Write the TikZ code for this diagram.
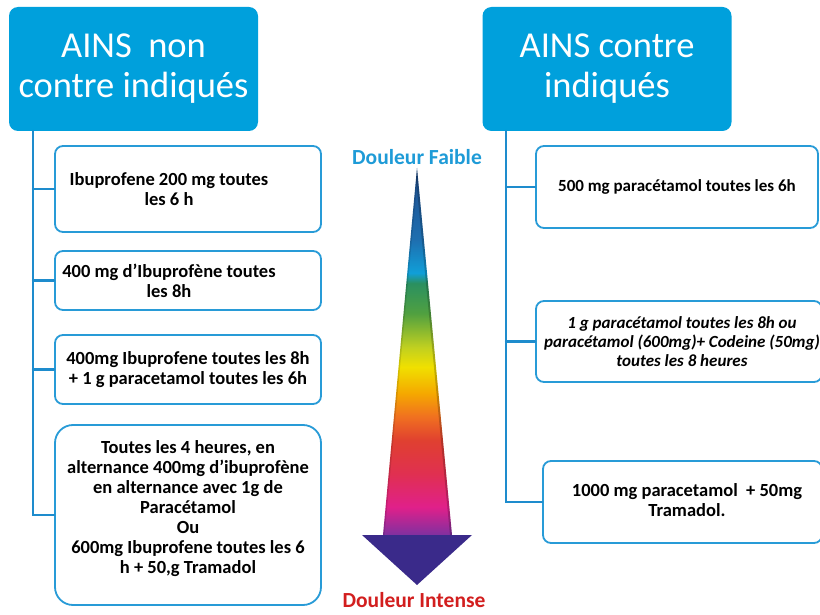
\documentclass[tikz,border=0pt]{standalone}
\usepackage{fontspec}
\setmainfont{Carlito}
\usetikzlibrary{positioning}

\definecolor{ainsblue}{RGB}{0,160,220}
\definecolor{boxline}{RGB}{40,155,215}
\definecolor{treeline}{RGB}{30,140,205}
\definecolor{faible}{RGB}{30,155,215}
\definecolor{intense}{RGB}{210,30,30}
\definecolor{headviolet}{RGB}{58,42,138}
\definecolor{painpurple}{RGB}{128,48,160}
\definecolor{painmagenta}{RGB}{224,32,138}
\definecolor{painredmag}{RGB}{224,48,80}
\definecolor{painred}{RGB}{224,64,48}
\definecolor{painorange}{RGB}{240,112,32}
\definecolor{painamber}{RGB}{245,168,0}
\definecolor{painyellow}{RGB}{240,224,0}
\definecolor{painlime}{RGB}{192,208,32}
\definecolor{paingreen}{RGB}{80,160,64}
\definecolor{painteal}{RGB}{42,144,96}
\definecolor{painsky}{RGB}{16,159,216}
\definecolor{painblue}{RGB}{30,111,176}
\definecolor{paindark}{RGB}{31,79,143}

% Colour scale of the pain arrow (bottom = 25bp, top = 75bp).
\pgfdeclareverticalshading{douleur}{100bp}{%
    color(0bp)=(painpurple); color(25bp)=(painpurple);
    color(28.8bp)=(painmagenta); color(33.4bp)=(painredmag);
    color(37.9bp)=(painred); color(41.1bp)=(painorange);
    color(44.3bp)=(painamber); color(47.9bp)=(painyellow);
    color(50.6bp)=(painlime); color(55.2bp)=(paingreen);
    color(59.3bp)=(painteal); color(60.7bp)=(painsky);
    color(65.2bp)=(painblue); color(74.3bp)=(paindark);
    color(100bp)=(paindark)}

\begin{document}
\begin{tikzpicture}[%
        x = 1pt,
        y = -1pt,
        line cap = round,
        header/.style = {%
            rounded corners = 9pt,
            fill = ainsblue,
            text = white,
            align = center,
            font = \fontsize{36.5}{40}\selectfont,
            minimum width = 249pt,
            minimum height = 124pt
        },
        dose/.style = {%
            draw = boxline,
            line width = 1.8pt,
            rounded corners = 8pt,
            fill = white,
            align = center,
            inner sep = 0pt,
            font = \fontsize{18.5}{20}\selectfont\bfseries
        },
        dosetext/.style = {%
            align = center,
            inner sep = 0pt,
            font = \fontsize{18.5}{20}\selectfont\bfseries
        },
        branch/.style = {draw = treeline, line width = 2.2pt},
        pain/.style = {font = \fontsize{21.5}{24}\selectfont\bfseries}
    ]

        \useasboundingbox (0, 0) rectangle (820, 615);

        % The two headings.
        \node[header] (hl) at (133.5, 69) {AINS\ \ non\\contre indiqués};
        \node[header] (hr) at (607, 69) {AINS contre\\indiqués};

        % Doses when AINS may be given.
        \node[dose, minimum width = 266pt, minimum height = 86pt] (l1) at (188, 189) {};
        \node[dosetext] (l1txt) at (169, 189) {Ibuprofene 200 mg toutes\\les 6 h};
        \node[dose, minimum width = 266pt, minimum height = 59pt] (l2) at (188, 280.5) {};
        \node[dosetext] (l2txt) at (169, 280.5) {400 mg d’Ibuprofène toutes\\les 8h};
        \node[dose, minimum width = 266pt, minimum height = 69pt] (l3) at (188, 369.5)
            {400mg Ibuprofene toutes les 8h\\+ 1 g paracetamol toutes les 6h};
        \node[dose, rounded corners = 18pt, minimum width = 266pt, minimum height = 180pt] (l4) at (188, 515) {};
        \node[dosetext] (l4txt) at (188, 509) {Toutes les 4 heures, en\\alternance 400mg d’ibuprofène\\en alternance avec 1g de\\Paracétamol\\Ou\\600mg Ibuprofene toutes les 6\\h + 50,g Tramadol};

        % Doses when AINS are ruled out.
        \node[dose, minimum width = 282pt, minimum height = 82pt,
              font = \fontsize{17}{20}\selectfont\bfseries] (r1) at (677, 187)
            {500 mg paracétamol toutes les 6h};
        \node[dose, minimum width = 286pt, minimum height = 81pt] (r2) at (679, 341.5) {};
        \node[dosetext, font = \fontsize{17}{19}\selectfont\bfseries\itshape] (r2txt) at (682, 341.5)
            {1 g paracétamol toutes les 8h ou\\paracétamol (600mg)+ Codeine (50mg)\\toutes les 8 heures};
        \node[dose, minimum width = 279pt, minimum height = 82pt] (r3) at (682.5, 502) {};
        \node[dosetext] (r3txt) at (687, 500) {1000 mg paracetamol \ + 50mg\\Tramadol.};

        % Tree lines down the left and right.
        \coordinate (ltop) at (33, 131);
        \coordinate (rtop) at (506, 131);
        \draw[branch] (ltop) |- (l4.west);
        \foreach \b in {l1, l2, l3}
            \draw[branch] (ltop |- \b.west) -- (\b.west);
        \draw[branch] (rtop) |- (r3.west);
        \foreach \b in {r1, r2}
            \draw[branch] (rtop |- \b.west) -- (\b.west);

        % The pain arrow.
        \coordinate (tip) at (417, 168);
        \coordinate (sr) at (452, 535);
        \coordinate (sl) at (383, 535);
        \shade[shading = douleur] (tip) -- (sr) -- (sl) -- cycle;
        \begin{scope}
            \clip (tip) -- (sr) -- (sl) -- cycle;
            \draw[black, opacity = 0.2, line width = 4pt] (tip) -- (sr);
            \draw[black, opacity = 0.12, line width = 3pt] (tip) -- (sl);
        \end{scope}
        \fill[headviolet] (362, 535) -- (472, 535) -- (417, 585) -- cycle;

        % Labels at both ends.
        \node[pain, text = faible] (faible) at (417, 157) {Douleur Faible};
        \node[pain, text = intense, inner ysep = 1pt] (intense) at (414, 600) {Douleur Intense};
    \end{tikzpicture}
\end{document}
